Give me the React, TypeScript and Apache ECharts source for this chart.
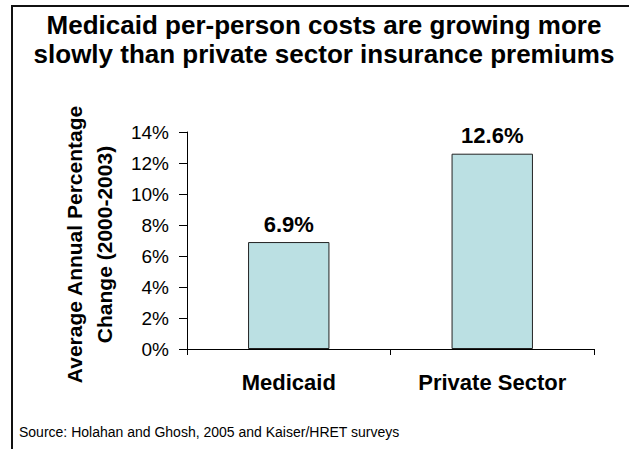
import React, { useEffect, useRef } from "react";
import * as echarts from "echarts";

const categories = ["Medicaid", "Private Sector"];
const values = [6.9, 12.6];
const yMin = 0;
const yMax = 14;
const yInterval = 2;
const titleLines = [
  "Medicaid per-person costs are growing more",
  "slowly than private sector insurance premiums",
];
const yAxisTitle = ["Average Annual Percentage", "Change (2000-2003)"];
const sourceText = "Source: Holahan and Ghosh, 2005 and Kaiser/HRET surveys";

const FONT = "'Liberation Sans', Arial, Helvetica, sans-serif";

export default function App() {
  const ref = useRef<HTMLDivElement>(null);
  useEffect(() => {
    if (!ref.current) return;
    const chart = echarts.init(ref.current, undefined, { renderer: "svg" });
    chart.setOption({
      animation: false,
      backgroundColor: "#ffffff",
      grid: { left: 187, right: 35, top: 132, bottom: 100 },
      xAxis: {
        type: "category",
        data: categories,
        axisLine: { show: true, lineStyle: { color: "#000", width: 1 } },
        axisTick: { show: true, length: 6, lineStyle: { color: "#000" } },
        axisLabel: {
          color: "#000",
          fontFamily: FONT,
          fontSize: 22,
          fontWeight: "bold",
          margin: 22,
        },
      },
      yAxis: {
        type: "value",
        min: yMin,
        max: yMax,
        interval: yInterval,
        name: yAxisTitle.join("\n"),
        nameLocation: "middle",
        nameRotate: 90,
        nameGap: 68,
        nameTextStyle: {
          color: "#000",
          fontFamily: FONT,
          fontSize: 21,
          fontWeight: "bold",
          lineHeight: 30,
          padding: [0, 8, 0, 0],
        },
        axisLine: { show: true, lineStyle: { color: "#000", width: 1 } },
        axisTick: { show: true, length: 8, lineStyle: { color: "#000" } },
        splitLine: { show: false },
        axisLabel: {
          color: "#000",
          fontFamily: FONT,
          fontSize: 19,
          margin: 18,
          formatter: "{value}%",
        },
      },
      series: [
        {
          type: "bar",
          data: values,
          barWidth: "40%",
          itemStyle: { color: "#BBE0E3", borderColor: "#222", borderWidth: 1 },
          label: {
            show: true,
            position: "top",
            distance: 7,
            formatter: "{c}%",
            color: "#000",
            fontFamily: FONT,
            fontSize: 22,
            fontWeight: "bold",
          },
        },
      ],
      graphic: [
        { type: "rect", shape: { x: 11, y: 5, width: 2, height: 444 }, style: { fill: "#111" } },
        { type: "rect", shape: { x: 11, y: 5, width: 618, height: 2 }, style: { fill: "#111" } },
        {
          type: "text",
          x: 324,
          y: 10,
          style: {
            text: titleLines.join("\n"),
            textAlign: "center",
            textVerticalAlign: "top",
            fill: "#000",
            font: `bold 26px ${FONT}`,
            lineHeight: 29,
          },
        },
        {
          type: "text",
          x: 19,
          y: 425,
          style: {
            text: sourceText,
            textAlign: "left",
            textVerticalAlign: "top",
            fill: "#000",
            font: `14px ${FONT}`,
          },
        },
      ],
    });
    return () => chart.dispose();
  }, []);
  return (
    <div
      ref={ref}
      style={{ position: "absolute", left: 0, top: 0, width: 629, height: 449 }}
    />
  );
}
